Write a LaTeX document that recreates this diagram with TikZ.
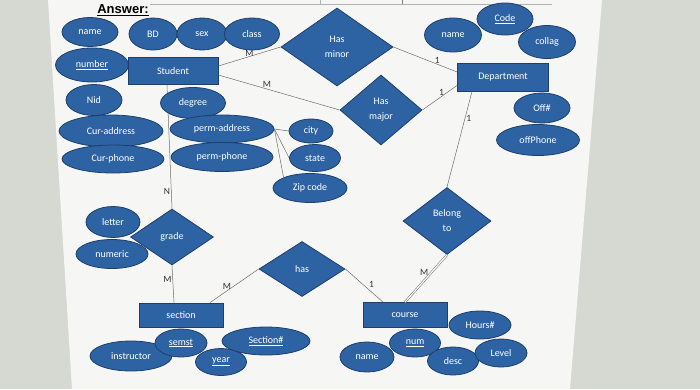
\documentclass[tikz,border=0pt]{standalone}
\usepackage{fontspec}
\setmainfont{Carlito}
\newfontfamily\answerfont{Liberation Sans}
\usepackage{xcolor}
\usetikzlibrary{shapes.geometric}

\definecolor{erfill}{RGB}{46,99,163}
\definecolor{erline}{RGB}{30,62,108}
\definecolor{wall}{RGB}{214,216,210}
\definecolor{sheet}{RGB}{246,247,245}

\begin{document}
\begin{tikzpicture}[x=1pt,y=-1pt,
          ent/.style 2 args={draw=erline,line width=0.8pt,fill=erfill,text=white,rectangle,minimum width=#1,minimum height=#2,inner sep=0pt},
          attr/.style 2 args={draw=erline,line width=0.8pt,fill=erfill,text=white,ellipse,minimum width=#1,minimum height=#2,inner sep=0pt},
          rel/.style 2 args={draw=erline,line width=0.8pt,fill=erfill,text=white,diamond,minimum width=#1,minimum height=#2,inner sep=0pt,align=center},
          link/.style={gray!85!black,line width=0.5pt},
          card/.style={font=\fontsize{9.5}{11}\selectfont,text=black!80,inner sep=1pt}]
        \useasboundingbox (0,0) rectangle (700,389);
        % photo of the sheet
        \fill[wall] (0,0) rectangle (700,389);
        \fill[sheet] (48,0) -- (602,0) -- (570,389) -- (72,389) -- cycle;
        \draw[gray!60] (150,4) -- (552,4);
        \draw[gray!60] (320,0) -- (320,4);
        \draw[gray] (402,0) -- (402,4);
        \node[font=\answerfont\bfseries\fontsize{13}{15}\selectfont,inner sep=0pt] (answer) at (123,10) {\underline{Answer:}};

        \node[ent={90pt}{27pt}] (student) at (173,71) {Student};
        \node[attr={54pt}{31pt}] (letter)  at (113,222) {letter};
        \node[attr={72pt}{29pt}] (numeric) at (112,254) {numeric};
        \node[rel={83pt}{56pt}]  (grade)   at (172,237) {grade};
        \draw[link] ([xshift=-6pt]student.south) -- (grade.north) node[card,pos=0.86,left]{N};

        % student attributes
        \node[attr={56pt}{29pt}]  (sname)     at (90,32)   {name};
        \node[attr={73pt}{34pt}]  (number)    at (92,65)   {\underline{number}};
        \node[attr={48pt}{32pt}]  (bd)        at (153,34)  {BD};
        \node[attr={50pt}{32pt}]  (sex)       at (202,34)  {sex};
        \node[attr={55pt}{32pt}]  (class)     at (252,34)  {class};
        \node[attr={56pt}{31pt}]  (nid)       at (94,100)  {Nid};
        \node[attr={65pt}{31pt}]  (degree)    at (193,103) {degree};
        \node[attr={104pt}{32pt}] (curaddr)   at (111,131) {Cur-address};
        \node[attr={102pt}{28pt}] (curphone)  at (113,159) {Cur-phone};
        \node[attr={104pt}{28pt}] (permaddr)  at (222,129) {perm-address};
        \node[attr={102pt}{29pt}] (permphone) at (222,157) {perm-phone};
        \node[attr={44pt}{24pt}]  (city)      at (311,131) {city};
        \node[attr={51pt}{27pt}]  (state)     at (315,158) {state};
        \node[attr={74pt}{29pt}]  (zip)       at (310,188) {Zip code};

        % relationships
        \node[rel={112pt}{78pt}] (hasminor) at (337,47)  {Has\\[3pt]minor};
        \node[rel={82pt}{70pt}]  (hasmajor) at (381,110) {Has\\[3pt]major};
        \node[rel={88pt}{67pt}]  (belong)   at (447,221) {Belong\\[3pt]to};
        \node[rel={86pt}{55pt}]  (has)      at (302,269) {has};

        % department
        \node[ent={91pt}{28pt}]  (dept)     at (503,77)  {Department};
        \node[attr={57pt}{34pt}] (dname)    at (453,35)  {name};
        \node[attr={56pt}{32pt}] (code)     at (505,19)  {\underline{Code}};
        \node[attr={57pt}{33pt}] (collag)   at (547,42)  {collag};
        \node[attr={56pt}{30pt}] (off)      at (542,108) {Off\#};
        \node[attr={83pt}{31pt}] (offphone) at (538,140) {offPhone};

        % section
        \node[ent={84pt}{24pt}]  (section)    at (181,315) {section};
        \node[attr={82pt}{30pt}] (instructor) at (131,356) {instructor};
        \node[attr={52pt}{28pt}] (semst)      at (181,343) {\underline{semst}};
        \node[attr={51pt}{27pt}] (year)       at (221,362) {\underline{year}};
        \node[attr={88pt}{28pt}] (secno)      at (266,341) {\underline{Section\#}};

        % course
        \node[ent={84pt}{25pt}]  (course) at (405,315) {course};
        \node[attr={54pt}{30pt}] (cname)  at (367,357) {name};
        \node[attr={51pt}{28pt}] (num)    at (415,343) {\underline{num}};
        \node[attr={62pt}{28pt}] (hours)  at (480,325) {Hours\#};
        \node[attr={51pt}{28pt}] (desc)   at (453,361) {desc};
        \node[attr={52pt}{28pt}] (level)  at (501,353) {Level};

        \draw[link] ([yshift=5pt]student.east) -- (hasminor.west) node[card,midway,above=-1pt]{M};
        \draw[link] ([yshift=-4pt]student.east) -- (hasmajor.west) node[card,pos=0.4,above]{M};
        \draw[link] (hasminor.east) -- ([yshift=5pt]dept.west) node[card,pos=0.69,above]{1};
        \draw[link] (hasmajor.east) -- ([yshift=6pt]dept.south west) node[card,pos=0.55,above]{1};
        \draw[link] ([xshift=-31pt]dept.south) -- (belong.north) node[card,pos=0.28,right]{1};
        \draw[link,double,double distance=1.2pt] (belong.south) -- (course.north) node[card,pos=0.37,left=2pt]{M};
        \draw[link] (has.east) -- ([xshift=-22pt]course.north) node[card,pos=0.6,above right]{1};
        \draw[link] (has.west) -- ([xshift=29pt]section.north) node[card,pos=0.65,above]{M};
        \draw[link] (grade.south) -- ([xshift=-7pt]section.north) node[card,pos=0.37,left]{M};
        \draw[link] (permaddr.east) -- (city.west);
        \draw[link] (permaddr.east) -- (state.west);
        \draw[link] (permaddr.east) -- (zip.north west);
      \end{tikzpicture}
\end{document}
